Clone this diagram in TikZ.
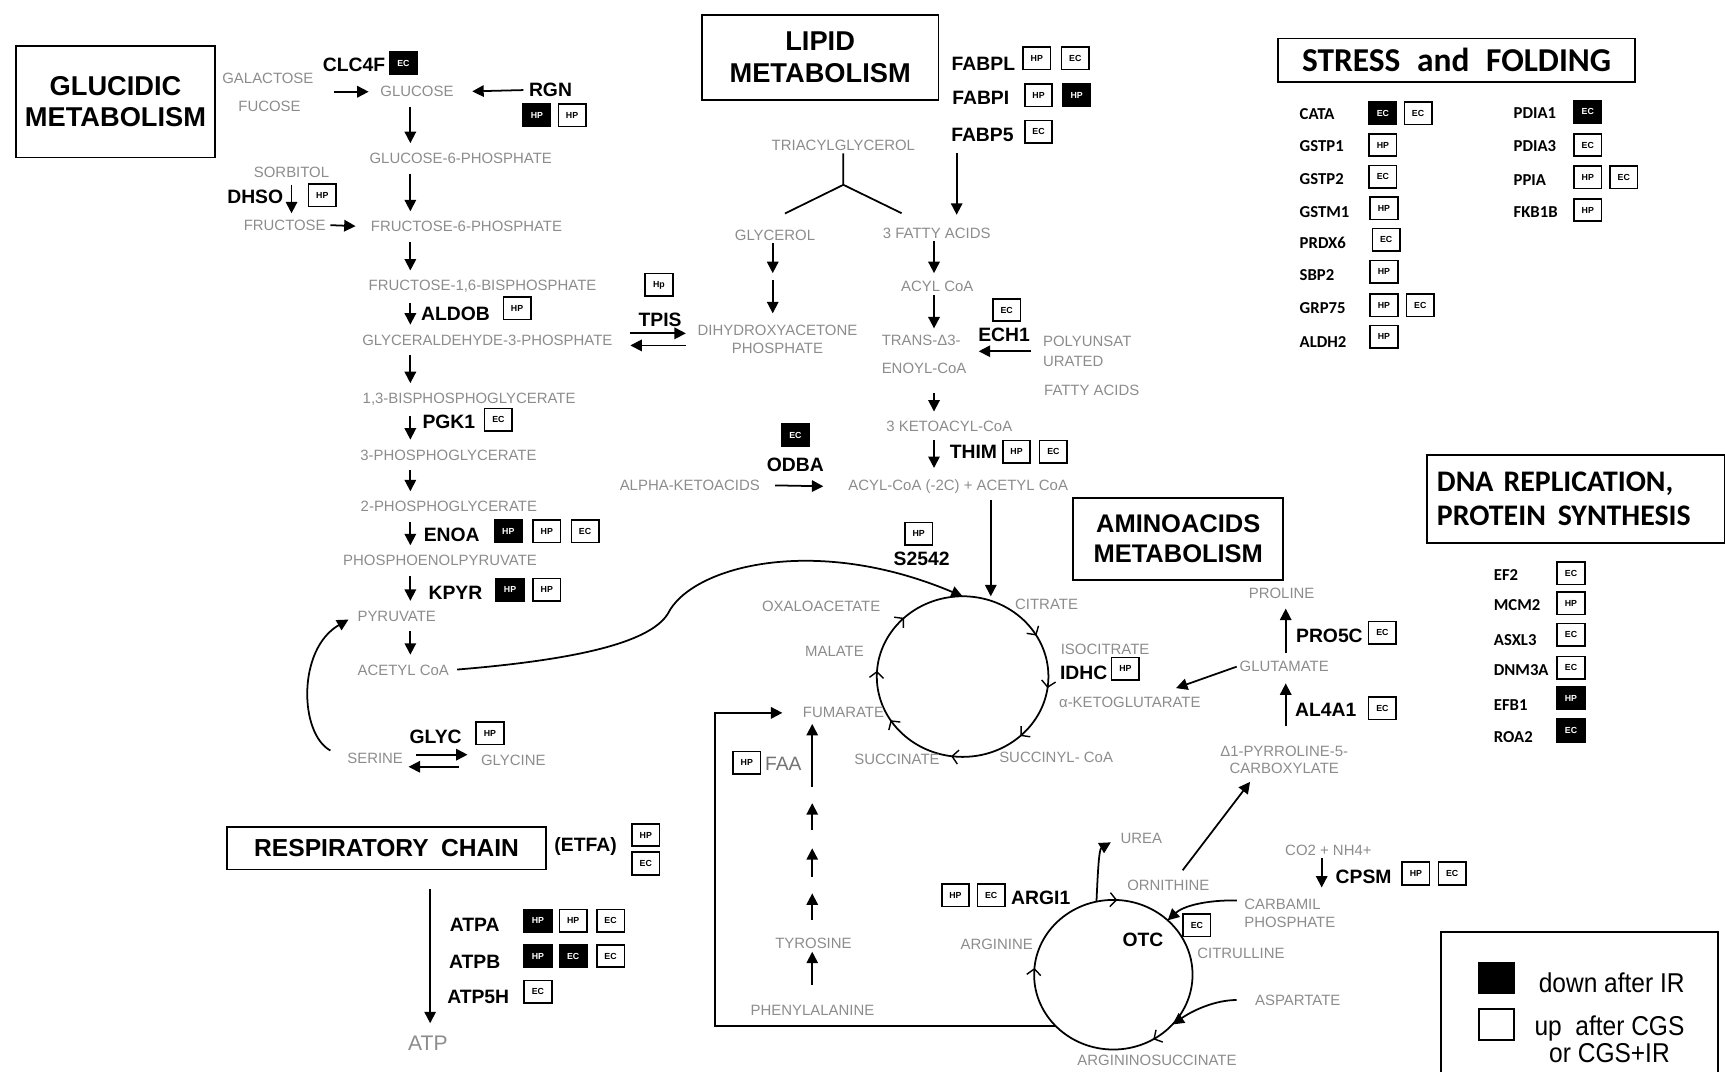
\documentclass[tikz,border=0pt]{standalone}
\usepackage{fontspec}
\setmainfont{Liberation Sans}
\newfontfamily\carlito{Carlito}
\newfontfamily\narrowsans[FakeStretch=0.9]{Liberation Sans}
\usetikzlibrary{arrows.meta, positioning, shapes.geometric, calc, decorations.markings}

\newcommand{\metsize}{\fontsize{8.5}{10}\selectfont}
\newcommand{\genesize}{\fontsize{11}{12}\selectfont\bfseries}
\newcommand{\tagsize}{\fontsize{5}{5}\selectfont\bfseries}
\newcommand{\listsize}{\carlito\fontsize{9.5}{10}\selectfont\bfseries}
\newcommand{\headsize}{\fontsize{15.5}{18}\selectfont\bfseries}

\tikzset{
  met/.style={text=black!45, font=\metsize, inner sep=1.5pt, align=center},
  gene/.style={font=\genesize, inner sep=1pt},
  lgene/.style={font=\listsize, anchor=west, inner sep=1pt},
  heading/.style={draw, line width=1pt, font=\headsize, align=center, inner sep=0pt},
  upbox/.style={draw, line width=0.9pt, fill=white, minimum width=0.55cm, minimum height=0.45cm, inner sep=0pt, font=\tagsize},
  dnbox/.style={upbox, fill=black, text=white},
  arr/.style={-{Triangle[length=6.5pt, width=6.5pt]}, line width=1pt, shorten <=4pt, shorten >=4pt},
  link/.style={line width=1pt},
  ring/.style={line width=1pt},
  ringmark/.style={decoration={markings, mark=at position #1 with {\arrow{Straight Barb[length=3.5pt, width=8pt, line width=0.8pt]}}}, decorate},
}

\begin{document}
\begin{tikzpicture}[x=0.022cm, y=-0.022cm]
\useasboundingbox (0,0) rectangle (1568,974);

%% glucidic metabolism
\node[heading, minimum width=3.99cm, minimum height=2.23cm] (glucid) at (105,92.5) {GLUCIDIC\\METABOLISM};
\coordinate (gax) at (373,0);
\coordinate (sax) at (265,0);
\node[met] (gal) at (243.5,71) {GALACTOSE};
\node[met] (fuc) at (245,96.4) {FUCOSE};
\node[met] (glc) at (379,83.4) {GLUCOSE};
\node[met] (g6p) at (418.8,144) {GLUCOSE-6-PHOSPHATE};
\node[met] (sorb) at (265,157) {SORBITOL};
\node[met] (fru) at (258.8,204.6) {FRUCTOSE};
\node[met] (f6p) at (424,206) {FRUCTOSE-6-PHOSPHATE};
\node[met] (f16) at (438.6,260.6) {FRUCTOSE-1,6-BISPHOSPHATE};
\node[met] (g3p) at (443,309) {GLYCERALDEHYDE-3-PHOSPHATE};
\node[met] (dhap) at (706.7,308.3) {DIHYDROXYACETONE\\PHOSPHATE};
\node[met] (bpg) at (426.4,363) {1,3-BISPHOSPHOGLYCERATE};
\node[met] (pg3) at (407.6,413.5) {3-PHOSPHOGLYCERATE};
\node[met] (pg2) at (408,460.5) {2-PHOSPHOGLYCERATE};
\node[met] (pep) at (400,509.6) {PHOSPHOENOLPYRUVATE};
\node[met] (pyr) at (360.6,560) {PYRUVATE};
\node[met] (accoa) at (366.6,609) {ACETYL CoA};
\node[met] (ser) at (341,689) {SERINE};
\node[met] (gly) at (466.6,690.8) {GLYCINE};

\node[gene] (clc4f) at (321.8,59) {CLC4F};
\node[dnbox] (clc4f-1) at (366.7,57.6) {EC};
\node[gene] (rgn) at (500.4,81.8) {RGN};
\node[dnbox] (rgn-1) at (488,104.6) {HP};
\node[upbox] (rgn-2) at (520,104.6) {HP};
\node[gene] (dhso) at (232,178.8) {DHSO};
\node[upbox] (dhso-1) at (293,177.3) {HP};
\node[gene] (aldob) at (414,284.9) {ALDOB};
\node[upbox] (aldob-1) at (470,280.3) {HP};
\node[gene] (tpis) at (600,291) {TPIS};
\node[upbox] (tpis-1) at (599,259) {Hp};
\node[gene] (pgk1) at (408,383) {PGK1};
\node[upbox] (pgk1-1) at (453,381.7) {EC};
\node[gene] (enoa) at (410.6,486) {ENOA};
\node[dnbox] (enoa-1) at (462,483) {HP};
\node[upbox] (enoa-2) at (497,483) {HP};
\node[upbox] (enoa-3) at (531.8,483) {EC};
\node[gene] (kpyr) at (414,539) {KPYR};
\node[dnbox] (kpyr-1) at (463.6,536) {HP};
\node[upbox] (kpyr-2) at (497,536) {HP};
\node[gene] (glycg) at (396,669.6) {GLYC};
\node[upbox] (glycg-1) at (445.4,666.5) {HP};

\draw[arr, shorten <=10pt, shorten >=5pt] (gal.east |- glc.west) -- (glc.west);
\draw[arr, shorten <=2pt, shorten >=9pt] (rgn.west) -- (glc.east);
\foreach \a/\b in {glc/g6p, g6p/f6p, f6p/f16, f16/g3p, g3p/bpg, bpg/pg3, pg3/pg2, pg2/pep, pep/pyr, pyr/accoa}
  \draw[arr] (\a.south -| gax) -- (\b.north -| gax);
\draw[arr, shorten <=2pt, shorten >=2pt] (sorb.south -| sax) -- (fru.north -| sax);
\draw[arr, shorten <=1pt, shorten >=7pt] (fru.east) -- (f6p.west);
\draw[arr, shorten <=8.5pt, shorten >=5pt] ($(g3p.east)+(0,-6)$) -- ($(dhap.west |- g3p.east)+(0,-6)$);
\draw[arr, shorten <=5pt, shorten >=8.5pt] ($(dhap.west |- g3p.east)+(0,5)$) -- ($(g3p.east)+(0,5)$);
\draw[arr, shorten <=6pt, shorten >=6pt] ($(ser.east)+(0,-3)$) -- ($(gly.west |- ser.east)+(0,-3)$);
\draw[arr, shorten <=11pt, shorten >=1.5pt] ($(gly.west |- ser.east)+(0,8)$) -- ($(ser.east)+(0,8)$);
\draw[arr, shorten <=9pt, shorten >=4pt] (ser.west) .. controls (272,667) and (270,590) .. (pyr.west);

%% lipid metabolism
\node[heading, minimum width=4.73cm, minimum height=1.7cm] (lipid) at (745.5,52.3) {LIPID\\METABOLISM};
\node[gene] (fabpl) at (893.9,57.6) {FABPL};
\node[upbox] (fabpl-1) at (942.4,53) {HP};
\node[upbox] (fabpl-2) at (977.4,53) {EC};
\node[gene] (fabpi) at (891.5,89.4) {FABPI};
\node[upbox] (fabpi-1) at (944,86.4) {HP};
\node[dnbox] (fabpi-2) at (978.7,86.4) {HP};
\node[gene] (fabp5) at (893,122.7) {FABP5};
\node[upbox] (fabp5-1) at (944,119.7) {EC};

\node[met] (tag) at (766.6,131.8) {TRIACYLGLYCEROL};
\node[met] (glyc) at (704.5,213.6) {GLYCEROL};
\node[met] (fa) at (851.5,212) {3 FATTY ACIDS};
\node[met] (acyl) at (852,260.6) {ACYL CoA};
\node[met, align=left] (enoyl) at (840,322) {TRANS-Δ3-\\[6pt]ENOYL-CoA};
\node[met] (keto) at (862.9,388) {3 KETOACYL-CoA};
\node[met] (acylc) at (871,442.4) {ACYL-CoA (-2C) + ACETYL CoA};
\node[met] (akd) at (627,441) {ALPHA-KETOACIDS};
\node[met, align=left] (pufa) at (988.3,319.3) {POLYUNSAT\\[1pt]URATED};
\node[met] (pufa2) at (992.4,354.5) {FATTY ACIDS};

\node[gene] (ech1) at (912.7,304.5) {ECH1};
\node[upbox] (ech1-1) at (915,281.8) {EC};
\node[gene] (thim) at (884.8,410.6) {THIM};
\node[upbox] (thim-1) at (924,410.6) {HP};
\node[upbox] (thim-2) at (957.5,410.6) {EC};
\node[gene] (odba) at (723,422.7) {ODBA};
\node[dnbox] (odba-1) at (723,395.4) {EC};

\coordinate (tj) at (766.6,168);
\coordinate (gyx) at (702.4,0);
\coordinate (gmid) at (702.4,251.5);
\coordinate (lax) at (849,0);
\coordinate (fax) at (869.6,0);
\coordinate (cax) at (900.6,0);
\draw[link] (tag.south) -- (tj) -- ($(glyc.north)+(9,-12)$);
\draw[link] (tj) -- ($(fa.north)+(-32,-10.7)$);
\draw[arr, shorten <=0pt, shorten >=2pt] (glyc.south -| gyx) -- (gmid);
\draw[arr, shorten <=2pt, shorten >=5pt] (gmid) -- (dhap.north -| gyx);
\draw[arr, shorten <=5.4pt, shorten >=5.8pt] (fabp5.south -| fax) -- (fa.north -| fax);
\foreach \a/\b/\s/\e in {fa/acyl/0/3, acyl/enoyl/0/2, enoyl/keto/9.5/4, keto/acylc/3/5}
  \draw[arr, shorten <=\s pt, shorten >=\e pt] (\a.south -| lax) -- (\b.north -| lax);
\draw[arr, shorten <=5pt, shorten >=5.3pt] (pufa.west) -- (pufa.west -| enoyl.east);
\draw[arr, shorten <=7pt, shorten >=12.6pt] (akd.east) -- (acylc.west);

%% krebs cycle
\node[ellipse, minimum width=3.43cm, minimum height=3.21cm, inner sep=0pt, outer sep=0pt] (tca) at (875,615) {};
\draw[ring] (tca.center) ellipse [x radius=78, y radius=73];
\foreach \p in {0.022, 0.13, 0.272, 0.411, 0.511, 0.628, 0.917}
  \path[ringmark=\p] (tca.center) ellipse [x radius=78, y radius=73];
\node[met] (oaa) at (746.4,551) {OXALOACETATE};
\node[met] (cit) at (951.3,549) {CITRATE};
\node[met] (icit) at (1004.5,590) {ISOCITRATE};
\node[met] (akg) at (1027,638) {α-KETOGLUTARATE};
\node[met] (sucoa) at (960,688.5) {SUCCINYL- CoA};
\node[met] (succ) at (815.4,690.3) {SUCCINATE};
\node[met] (fum) at (766.7,648) {FUMARATE};
\node[met] (mal) at (758.5,592.4) {MALATE};
\node[gene] (idhc) at (985,612) {IDHC};
\node[upbox] (idhc-1) at (1023,608) {HP};
\node[gene] (s2542) at (837.7,507.6) {S2542};
\node[upbox] (s2542-1) at (835,485) {HP};

\draw[arr, shorten <=3pt, shorten >=0pt] (accoa.east) .. controls (520,600) and (590,585) .. (607,558) .. controls (628,515) and (740,485) .. (tca.north);
\draw[arr, shorten <=2pt, shorten >=0pt] (acylc.south -| cax) -- (tca.north -| cax);

%% aminoacids metabolism
\node[heading, font=\fontsize{14.5}{17}\selectfont\bfseries, minimum width=4.2cm, minimum height=1.63cm] (amino) at (1071,490) {AMINOACIDS\\METABOLISM};
\coordinate (pax) at (1168.7,0);
\coordinate (lbx) at (650,0);
\coordinate (tax) at (738.3,0);
\node[met] (pro) at (1165,539) {PROLINE};
\node[met] (glu) at (1167.3,606) {GLUTAMATE};
\node[met] (p5c) at (1167.3,690.7) {Δ1-PYRROLINE-5-\\CARBOXYLATE};
\node[gene] (pro5c) at (1208.4,578) {PRO5C};
\node[upbox] (pro5c-1) at (1256.6,575) {EC};
\node[gene] (al4a1) at (1205,645.4) {AL4A1};
\node[upbox] (al4a1-1) at (1256.6,643.8) {EC};
\draw[arr, shorten <=3pt, shorten >=4.2pt] (glu.north -| pax) -- (pro.south -| pax);
\draw[arr, shorten <=9.3pt, shorten >=4.8pt] (p5c.north -| pax) -- (glu.south -| pax);
\draw[arr, shorten <=0pt, shorten >=0pt] (glu.west) -- ($(akg.north east)+(-25,-5)$);

\node[met] (tyr) at (739.4,857.6) {TYROSINE};
\node[met] (phe) at (738.5,918.2) {PHENYLALANINE};
\node[upbox] (faa-1) at (678.8,693.3) {HP};
\node[font=\fontsize{11}{12}\selectfont, text=black!55, inner sep=1pt] (faa) at (712,694) {FAA};
\draw[arr, shorten <=9.7pt, shorten >=0pt] (phe.north -| tax) -- (tyr.south -| tax);
\foreach \s/\e in {14/38, 53/79, 96/120, 135/192}
  \draw[arr, shorten <=0pt, shorten >=0pt] ($(tyr.north -| tax)+(0,-\s)$) -- ($(tyr.north -| tax)+(0,-\e)$);

%% urea cycle
\node[ellipse, minimum width=3.17cm, minimum height=2.99cm, inner sep=0pt, outer sep=0pt] (ucy) at (1012,886) {};
\draw[ring] (ucy.center) ellipse [x radius=72, y radius=68];
\foreach \p in {0.164, 0.514, 0.758}
  \path[ringmark=\p] (ucy.center) ellipse [x radius=72, y radius=68];
\node[met] (urea) at (1037.5,762) {UREA};
\node[met] (orn) at (1062,804.6) {ORNITHINE};
\node[met, align=left] (cp) at (1172.4,830) {CARBAMIL\\PHOSPHATE};
\node[met] (citr) at (1128,866.7) {CITRULLINE};
\node[met] (asp) at (1179.6,909) {ASPARTATE};
\node[met] (asuc) at (1051.7,963.6) {ARGININOSUCCINATE};
\node[met] (arg) at (906,858.5) {ARGININE};
\node[met] (co2) at (1207.5,772.8) {CO2 + NH4+};
\coordinate (cpx) at (1201.4,806.7);
\node[gene] (arg1) at (946,816) {ARGI1};
\node[upbox] (arg1-1) at (868.5,813.6) {HP};
\node[upbox] (arg1-2) at (901,813.6) {EC};
\node[gene] (otc) at (1039,854.6) {OTC};
\node[upbox] (otc-1) at (1088,841) {EC};
\node[gene] (cpsm) at (1239.5,797) {CPSM};
\node[upbox] (cpsm-1) at (1287,794) {HP};
\node[upbox] (cpsm-2) at (1320,794) {EC};

\draw[arr, shorten <=0pt, shorten >=0pt] (co2.south -| cpx) -- (cpx);
\draw[arr, shorten <=0pt, shorten >=0pt] ($(orn.north)+(13,-6)$) -- ($(p5c.south)+(-31,4.5)$);
\draw[arr, shorten <=0pt, shorten >=0pt] ($(cp.north west)+(-4,4)$) .. controls (1095,818) and (1075,824) .. (ucy.45);
\draw[arr, shorten <=8.8pt, shorten >=0pt] (asp.west) .. controls (1105,909) and (1085,918) .. (ucy.-40);
\draw[arr, shorten <=0pt, shorten >=4.5pt] (ucy.103) .. controls (998,790) and (999,772) .. (urea.west);
\draw[arr, shorten <=0pt, shorten >=10pt] (ucy.222) -- (ucy.222 -| lbx) -- (fum.west -| lbx) -- (fum.west);

%% respiratory chain
\node[heading, font=\fontsize{14}{16}\selectfont\bfseries, minimum width=6.38cm, minimum height=0.854cm] (resp) at (351.4,771) {RESPIRATORY\hspace{0.5em}CHAIN};
\node[gene] (etfa) at (532.3,769.7) {(ETFA)};
\node[upbox] (etfa-1) at (587,759) {HP};
\node[upbox] (etfa-2) at (587,784.9) {EC};
\coordinate (rax) at (391,0);
\node[font=\fontsize{12}{13}\selectfont, text=black!45, inner sep=1.5pt] (atp) at (389,948.5) {ATP};
\draw[arr, shorten <=10.7pt, shorten >=5.7pt] (resp.south -| rax) -- (atp.north -| rax);
\node[gene] (atpa) at (431.5,841) {ATPA};
\node[dnbox] (atpa-1) at (489,837) {HP};
\node[upbox] (atpa-2) at (521,837) {HP};
\node[upbox] (atpa-3) at (555,837) {EC};
\node[gene] (atpb) at (431.5,874.3) {ATPB};
\node[dnbox] (atpb-1) at (489,869) {HP};
\node[dnbox] (atpb-2) at (521,869) {EC};
\node[upbox] (atpb-3) at (555,869) {EC};
\node[gene] (atp5h) at (434.7,906) {ATP5H};
\node[upbox] (atp5h-1) at (489,901.6) {EC};

%% stress and folding
\node[heading, font=\carlito\fontsize{19}{21}\selectfont\bfseries, minimum width=7.13cm, minimum height=0.867cm] (stress) at (1324,54.6) {STRESS\hspace{0.5em}and\hspace{0.5em}FOLDING};
\foreach \g/\y in {CATA/103.6, GSTP1/132.7, GSTP2/163, GSTM1/192.4, PRDX6/221.2, SBP2/250, GRP75/280.3, ALDH2/310.6}
  \node[lgene] (\g) at (1179.5,\y) {\g};
\foreach \g/\y in {PDIA1/103, PDIA3/132.7, PPIA/163.6, FKB1B/192.4}
  \node[lgene] (\g) at (1374,\y) {\g};
\foreach \n/\x/\y/\t in {cata-1/1257/103/EC, pdia1-1/1443.3/101.5/EC}
  \node[dnbox] (\n) at (\x,\y) {\t};
\foreach \n/\x/\y/\t in {cata-2/1289/103/EC, gstp1-1/1257/131.8/HP, gstp2-1/1257/160.6/EC, gstm1-1/1258/189.4/HP,
    prdx6-1/1260/218/EC, sbp2-1/1258/247/HP, grp75-1/1258/277.3/HP, grp75-2/1291/277.3/EC, aldh2-1/1258/306/HP,
    pdia3-1/1443.3/131.8/EC, ppia-1/1443.3/161.2/HP, ppia-2/1476/161.2/EC, fkb1b-1/1443.3/190.9/HP}
  \node[upbox] (\n) at (\x,\y) {\t};

%% dna replication, protein synthesis
\node[draw, line width=1pt, font=\carlito\fontsize{17}{19}\selectfont\bfseries, align=left, text width=5.56cm, inner xsep=0.2cm, inner ysep=0pt, minimum height=1.75cm] (dna) at (1432.5,453.5) {DNA REPLICATION,\\PROTEIN\hspace{0.4em}SYNTHESIS};
\foreach \g/\y in {EF2/522.7, MCM2/550, ASXL3/581.8, DNM3A/609, EFB1/641, ROA2/669.7}
  \node[lgene] (\g) at (1356,\y) {\g};
\foreach \n/\y/\t in {ef2-1/521.2/EC, mcm2-1/548.5/HP, asxl3-1/577/EC, dnm3a-1/607/EC}
  \node[upbox] (\n) at (1428,\y) {\t};
\foreach \n/\y/\t in {efb1-1/634.8/HP, roa2-1/664/EC}
  \node[dnbox] (\n) at (1428,\y) {\t};

%% legend
\node[draw, line width=1pt, minimum width=5.54cm, minimum height=3.37cm] (legend) at (1436,923.5) {};
\node[draw, line width=1pt, fill=black, minimum width=0.7cm, minimum height=0.62cm] (key-dn) at (1360,889) {};
\node[draw, line width=1pt, minimum width=0.7cm, minimum height=0.62cm] (key-up) at (1360,931) {};
\node[font=\narrowsans\fontsize{15.5}{16}\selectfont] (key-dn-txt) at (1465,893) {down after IR};
\node[font=\narrowsans\fontsize{15.5}{15.6}\selectfont, align=center] (key-up-txt) at (1463,944.5) {up\ \ after CGS\\or CGS+IR};
\end{tikzpicture}
\end{document}
